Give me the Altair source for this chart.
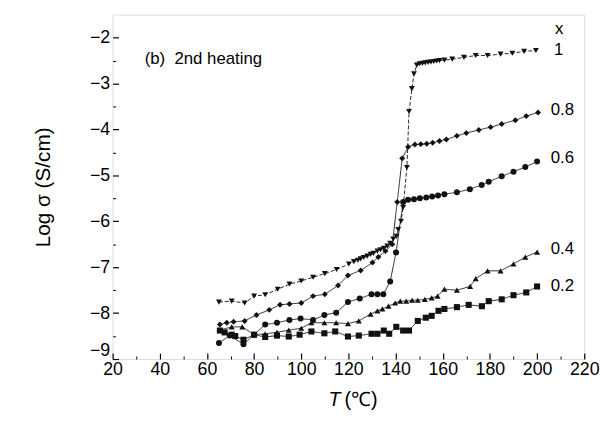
import altair as alt
import pandas as pd

# ---------------- data ----------------
series_names = ["1", "0.8", "0.6", "0.4", "0.2"]

T1 = [65.1, 70.5, 76, 80, 84.7, 90, 95, 100, 105, 110, 115, 120.2, 122.3, 124, 125.2, 126.5, 128, 129.4,
      130.6, 132.3, 133.6, 135, 136.5, 137.7, 139, 140.3, 141.1, 142.3, 143.2, 144.8, 145.7, 146.9, 147.8,
      149, 150.2, 151.4, 152.6, 153.8, 155, 156.2, 157.4, 158.6, 160.7, 164, 169, 174, 179, 184.5, 189.5,
      194.5, 199.5]
V1 = [-7.76, -7.74, -7.78, -7.63, -7.6, -7.48, -7.37, -7.3, -7.22, -7.14, -7.05, -6.93, -6.88, -6.85, -6.82,
      -6.79, -6.76, -6.72, -6.7, -6.65, -6.62, -6.59, -6.54, -6.48, -6.39, -6.33, -6.18, -6.0, -5.7, -4.83,
      -3.61, -3.11, -2.79, -2.6, -2.57, -2.56, -2.55, -2.54, -2.53, -2.52, -2.51, -2.5, -2.49, -2.47, -2.43,
      -2.39, -2.39, -2.36, -2.34, -2.3, -2.28]

T08 = [65.5, 68.4, 71.3, 76, 81, 86.4, 91, 95, 100, 105, 110, 115.6, 119.8, 125.2, 130.2, 132.7, 135.7,
       138.6, 140.7, 142.8, 145.3, 148.2, 150.7, 153.2, 155.7, 158.6, 161.5, 166, 170, 175.3, 180.3, 185,
       190.8, 195.4, 200.4]
V08 = [-8.25, -8.21, -8.19, -8.17, -8.04, -7.93, -7.82, -7.8, -7.78, -7.63, -7.59, -7.4, -7.18, -7.07, -6.9,
       -6.78, -6.65, -6.5, -5.58, -4.63, -4.38, -4.33, -4.32, -4.31, -4.29, -4.25, -4.22, -4.14, -4.08, -4.01,
       -3.95, -3.88, -3.8, -3.71, -3.63]

T06 = [65.1, 69.7, 75.5, 80, 84.7, 89.7, 95, 99.7, 105, 109.8, 114.8, 119.8, 124.8, 129.8, 132.3, 134.8,
       137.7, 140.2, 143.2, 145.3, 147.8, 150.3, 153, 155.5, 158, 160.7, 166, 171.5, 176.5, 179.5, 185, 190,
       195, 200]
V06 = [-8.65, -8.49, -8.68, -8.47, -8.25, -8.21, -8.15, -8.12, -8.15, -8.04, -7.99, -7.76, -7.68, -7.59,
       -7.59, -7.59, -7.31, -6.68, -5.58, -5.53, -5.52, -5.5, -5.48, -5.46, -5.44, -5.41, -5.37, -5.3, -5.21,
       -5.14, -5.02, -4.92, -4.82, -4.7]

T04 = [65.5, 70.5, 75, 80, 84.7, 89.7, 94.7, 100, 104.3, 109.8, 114.8, 119.8, 124.4, 129.4, 132.3, 134.4,
       137, 139.8, 142, 144.5, 147, 149.4, 152.4, 155.3, 157.8, 160.7, 166, 171.6, 174, 179, 184.5, 190, 195,
       200]
V04 = [-8.37, -8.3, -8.3, -8.47, -8.45, -8.42, -8.37, -8.33, -8.21, -8.21, -8.21, -8.23, -8.17, -8.02, -7.95,
       -7.91, -7.85, -7.78, -7.74, -7.74, -7.72, -7.72, -7.7, -7.67, -7.63, -7.48, -7.5, -7.42, -7.25, -7.08,
       -7.08, -6.93, -6.78, -6.67]

T02 = [65.5, 67.5, 70.5, 72, 75.5, 80, 84.7, 89.7, 94.7, 99.3, 104.3, 109.8, 114.4, 119.8, 124.4, 129.8,
       132.3, 135, 137.3, 140.3, 143.2, 145.7, 149.4, 152.8, 155.3, 158.2, 160.7, 166, 171, 176.6, 179.5, 185,
       190, 195.4, 200]
V02 = [-8.38, -8.42, -8.47, -8.5, -8.58, -8.47, -8.52, -8.49, -8.51, -8.47, -8.4, -8.44, -8.4, -8.51, -8.49,
       -8.45, -8.45, -8.38, -8.45, -8.3, -8.38, -8.38, -8.17, -8.1, -8.06, -7.95, -7.91, -7.87, -7.82, -7.85,
       -7.74, -7.7, -7.61, -7.55, -7.42]

x_major = [20, 40, 60, 80, 100, 120, 140, 160, 180, 200, 220]
x_minor = [30, 50, 70, 90, 110, 130, 150, 170, 190, 210]
y_major = [-9, -8, -7, -6, -5, -4, -3, -2]
y_minor = [-8.5, -7.5, -6.5, -5.5, -4.5, -3.5, -2.5]

label_text = ["x", "1", "0.8", "0.6", "0.4", "0.2"]
label_T = [207.6, 207.2, 205.8, 205.8, 205.8, 205.8]
label_v = [-1.82, -2.28, -3.58, -4.62, -6.6, -7.42]

note_text = ["(b)\u00a0\u00a02nd heating"]
note_T = [33.6]
note_v = [-2.47]

# ---------------- build table ----------------
rows = []
for name, ts, vs in zip(series_names, [T1, T08, T06, T04, T02], [V1, V08, V06, V04, V02]):
    for t, v in zip(ts, vs):
        rows.append({"series": name, "T": t, "v": v})
df = pd.DataFrame(rows)
labels_df = pd.DataFrame({"text": label_text, "T": label_T, "v": label_v})
note_df = pd.DataFrame({"text": note_text, "T": note_T, "v": note_v})

FONT = "Liberation Sans"
xscale = alt.Scale(domain=[20, 220], nice=False, zero=False)
yscale = alt.Scale(domain=[-9, -1.5], nice=False, zero=False)

x_axis_major = alt.Axis(values=x_major, orient="bottom", offset=-6, tickSize=6, tickColor="black",
                        tickWidth=1.2, domain=False, grid=False, labelFontSize=18, labelColor="black",
                        labelFont=FONT, labelPadding=2, labelFlush=False, labelOverlap=False, title=None)
y_axis_major = alt.Axis(values=y_major, orient="left", offset=-6, tickSize=6, tickColor="black",
                        tickWidth=1.2, domain=False, grid=False, labelFontSize=18, labelColor="black",
                        labelFont=FONT, labelPadding=3, labelFlush=False, labelOverlap=False,
                        labelBaseline={"condition": {"test": "datum.value <= -9", "value": "bottom"},
                                       "value": "middle"},
                        title="Log σ (S/cm)", titleFont=FONT,
                        titleFontSize=21, titleFontWeight="normal", titleColor="black", titlePadding=36)
x_axis_minor = alt.Axis(values=x_minor, orient="bottom", offset=-3, tickSize=3, tickColor="black",
                        tickWidth=1, domain=False, grid=False, labels=False, title=None)
y_axis_minor = alt.Axis(values=y_minor, orient="left", offset=-3, tickSize=3, tickColor="black",
                        tickWidth=1, domain=False, grid=False, labels=False, title=None)

shape_scale = alt.Scale(domain=series_names,
                        range=["triangle-down", "diamond", "circle", "triangle-up", "square"])
size_scale = alt.Scale(domain=series_names, range=[36, 38, 28, 36, 26])
dash_scale = alt.Scale(domain=series_names, range=[[4, 2], [1, 0], [1, 0], [1, 0], [1, 0]])

lines = alt.Chart(df).mark_line(color="#111111", strokeWidth=0.9).encode(
    x=alt.X("T:Q", scale=xscale, axis=x_axis_major),
    y=alt.Y("v:Q", scale=yscale, axis=y_axis_major),
    detail="series:N",
    strokeDash=alt.StrokeDash("series:N", scale=dash_scale, legend=None),
    order="T:Q",
)

points = alt.Chart(df).mark_point(filled=True, color="#111111", opacity=1).encode(
    x=alt.X("T:Q", scale=xscale, axis=x_axis_minor),
    y=alt.Y("v:Q", scale=yscale, axis=y_axis_minor),
    shape=alt.Shape("series:N", scale=shape_scale, legend=None),
    size=alt.Size("series:N", scale=size_scale, legend=None),
)

series_labels = alt.Chart(labels_df).mark_text(align="left", baseline="middle", font=FONT,
                                               fontSize=17, color="black").encode(
    x=alt.X("T:Q", scale=xscale, axis=None),
    y=alt.Y("v:Q", scale=yscale, axis=None),
    text="text:N",
)

note = alt.Chart(note_df).mark_text(align="left", baseline="middle", font=FONT,
                                    fontSize=17, color="black").encode(
    x=alt.X("T:Q", scale=xscale, axis=None),
    y=alt.Y("v:Q", scale=yscale, axis=None),
    text="text:N",
)

title_T = alt.Chart(pd.DataFrame({"t": ["T"]})).mark_text(
    align="center", baseline="alphabetic", font=FONT, fontSize=20, fontStyle="italic", color="black"
).encode(x=alt.value(225), y=alt.value(397), text="t:N")
title_C = alt.Chart(pd.DataFrame({"t": ["(℃)"]})).mark_text(
    align="left", baseline="alphabetic", font=FONT, fontSize=20, color="black"
).encode(x=alt.value(235), y=alt.value(397), text="t:N")

chart = alt.layer(lines, points, series_labels, note, title_T, title_C).resolve_axis(
    x="independent", y="independent"
).properties(
    width=478, height=349,
    autosize=alt.AutoSizeParams(type="none"),
    padding={"left": 106, "top": 4, "right": 19, "bottom": 54},
).configure_view(stroke="black", strokeWidth=1.3).configure(background="white")

chart.save("out.html", embed_options={"renderer": "svg", "actions": False})
